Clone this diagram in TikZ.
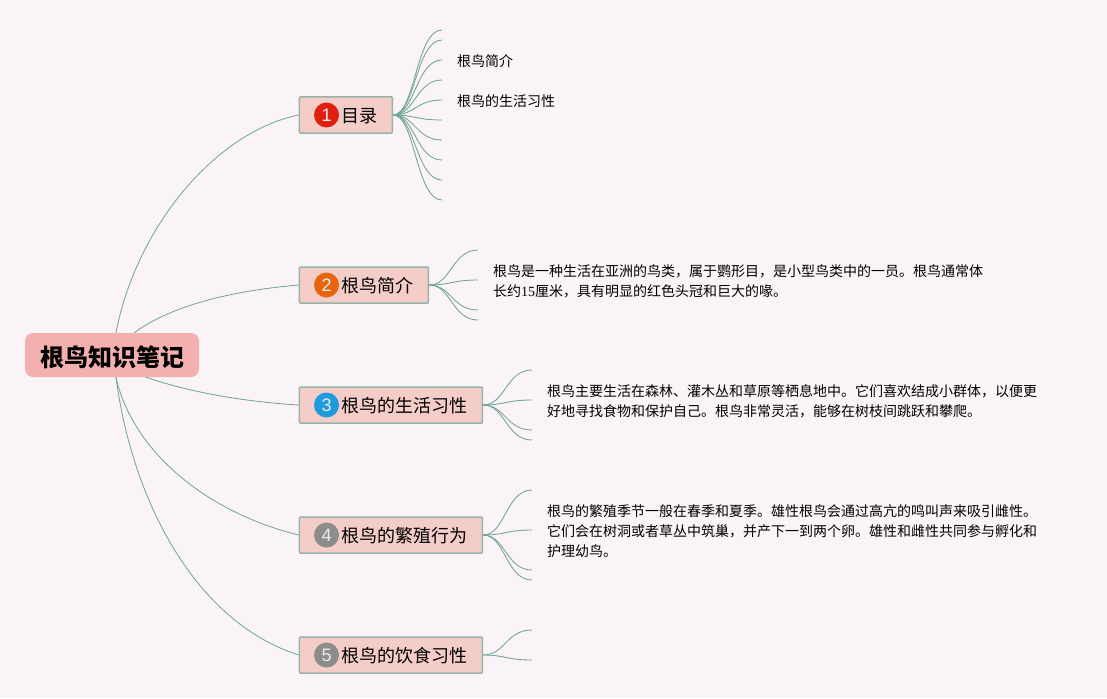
\documentclass[tikz,border=0pt]{standalone}
\usepackage{fontspec}
\setmainfont{Noto Sans CJK SC}
\setsansfont{Liberation Sans}
\newfontfamily\numfont{Liberation Serif}
\definecolor{bgc}{HTML}{FBF4F7}
\definecolor{rootc}{HTML}{F4B0AE}
\definecolor{topicc}{HTML}{F4CDC8}
\definecolor{edgec}{HTML}{98B3A8}
\definecolor{linkc}{HTML}{6FA394}
\definecolor{bred}{HTML}{E0200F}
\definecolor{borange}{HTML}{E8650F}
\definecolor{bblue}{HTML}{1E9BDC}
\definecolor{bgrey}{HTML}{8C8C8C}
\tikzset{
  rootbox/.style={draw=none,fill=rootc,rounded corners=8pt,minimum width=174pt,minimum height=44pt,inner sep=0pt,
    font=\fontsize{24}{28}\selectfont\bfseries},
  topicbox/.style={draw=edgec,line width=1.5pt,fill=topicc,rounded corners=1pt,minimum height=36pt,inner sep=0pt,anchor=west},
  topictext/.style={anchor=west,inner sep=0pt,font=\fontsize{18}{22}\selectfont},
  badge/.style={circle,minimum size=25pt,inner sep=0pt,text=white!85!gray,font=\sffamily\fontsize{18}{18}\selectfont},
  leaftext/.style={anchor=north west,inner sep=0pt,align=left,font=\fontsize{14}{20}\selectfont},
  rootlink/.style={draw=linkc,line width=0.8pt},
  leaflink/.style={draw=linkc,line width=0.85pt},
}
\begin{document}
\begin{tikzpicture}[x=1pt,y=-1pt]
\fill[bgc] (0,0) rectangle (1107,698);
\useasboundingbox (0,0) rectangle (1107,698);
% root
\node[rootbox] (root) at (112,355) {\raisebox{-2pt}[\height][\depth]{根鸟知识笔记}};
% topics
\node[topicbox,minimum width=93pt]  (t1) at (298.7,115) {};
\node[topicbox,minimum width=129pt] (t2) at (298.7,285) {};
\node[topicbox,minimum width=183pt] (t3) at (298.7,405) {};
\node[topicbox,minimum width=183pt] (t4) at (298.7,535) {};
\node[topicbox,minimum width=183pt] (t5) at (298.7,655) {};
\node[badge,fill=bred]    (b1) at (326.5,115) {1};
\node[badge,fill=borange] (b2) at (326.5,285) {2};
\node[badge,fill=bblue]   (b3) at (326.5,405) {3};
\node[badge,fill=bgrey]   (b4) at (326.5,535) {4};
\node[badge,fill=bgrey]   (b5) at (326.5,655) {5};
\node[topictext] (l1) at (341.5,116.5) {目录};
\node[topictext] (l2) at (341,286) {根鸟简介};
\node[topictext] (l3) at (341,406) {根鸟的生活习性};
\node[topictext] (l4) at (341,536) {根鸟的繁殖行为};
\node[topictext] (l5) at (341,656) {根鸟的饮食习性};
% root connectors
\draw[rootlink] ([xshift=4pt]root.north) .. controls (136,228) and (215,132) .. (t1.west);
\draw[rootlink] ([xshift=22pt]root.north) .. controls (175,303) and (240,290) .. (t2.west);
\draw[rootlink] ([xshift=34pt]root.south) .. controls (195,394) and (250,402) .. (t3.west);
\draw[rootlink] ([xshift=4pt]root.south) .. controls (132,450) and (205,512) .. (t4.west);
\draw[rootlink] ([xshift=4pt]root.south) .. controls (132,500) and (195,622) .. (t5.west);
% leaf ends and connectors
\foreach \i/\yy in {a/30,b/40,c/60,d/80,e/100,f/120,g/140,h/160,i/180,j/200}{
  \coordinate (e1\i) at (442,\yy);
  \draw[leaflink] (t1.east) .. controls +(22,0) and +(-26,0) .. (e1\i);
}
\foreach \i/\yy in {a/250,b/280,c/310,d/320}{
  \coordinate (e2\i) at (478,\yy);
  \draw[leaflink] (t2.east) .. controls +(22,0) and +(-26,0) .. (e2\i);
}
\foreach \i/\yy in {a/370,b/400,c/430,d/440}{
  \coordinate (e3\i) at (532,\yy);
  \draw[leaflink] (t3.east) .. controls +(22,0) and +(-26,0) .. (e3\i);
}
\foreach \i/\yy in {a/490,b/530,c/570,d/580}{
  \coordinate (e4\i) at (532,\yy);
  \draw[leaflink] (t4.east) .. controls +(22,0) and +(-26,0) .. (e4\i);
}
\foreach \i/\yy in {a/630,b/660}{
  \coordinate (e5\i) at (532,\yy);
  \draw[leaflink] (t5.east) .. controls +(22,0) and +(-26,0) .. (e5\i);
}
% leaf text
\node[leaftext] (s1) at (457,54) {根鸟简介};
\node[leaftext] (s2) at (457,94) {根鸟的生活习性};
\node[leaftext] (s3) at (493,264) {根鸟是一种生活在亚洲的鸟类，属于鹦形目，是小型鸟类中的一员。根鸟通常体\\长约{\numfont 15}厘米，具有明显的红色头冠和巨大的喙。};
\node[leaftext] (s4) at (547,384) {根鸟主要生活在森林、灌木丛和草原等栖息地中。它们喜欢结成小群体，以便更\\好地寻找食物和保护自己。根鸟非常灵活，能够在树枝间跳跃和攀爬。};
\node[leaftext] (s5) at (547,504) {根鸟的繁殖季节一般在春季和夏季。雄性根鸟会通过高亢的鸣叫声来吸引雌性。\\它们会在树洞或者草丛中筑巢，并产下一到两个卵。雄性和雌性共同参与孵化和\\护理幼鸟。};
\end{tikzpicture}
\end{document}
